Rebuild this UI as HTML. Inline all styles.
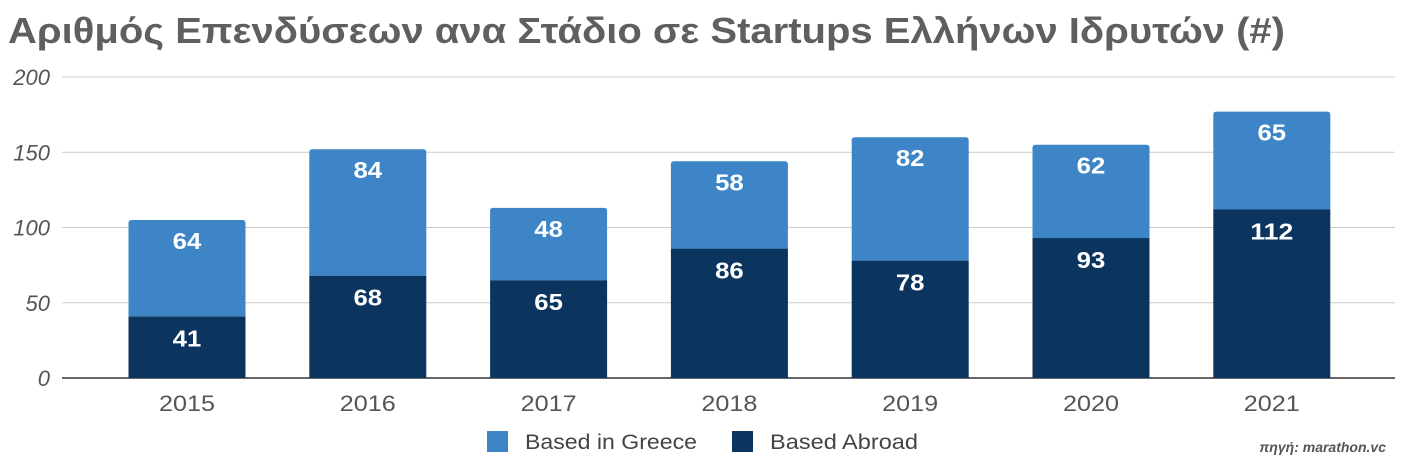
<!DOCTYPE html>
<html><head><meta charset="utf-8">
<style>
body{margin:0;background:#fff;width:1402px;height:468px;overflow:hidden;font-family:"Liberation Sans",Arial,sans-serif;}
</style></head>
<body>
<svg id="chart" width="1402" height="468" xmlns="http://www.w3.org/2000/svg">
<text x="8" y="43" font-size="36" font-weight="bold" fill="#5f5f5f" textLength="1277" lengthAdjust="spacingAndGlyphs" font-family="Liberation Sans, sans-serif">Αριθμός Επενδύσεων ανα Στάδιο σε Startups Ελλήνων Ιδρυτών (#)</text>
<g id="grid"></g>
<g id="bars"></g>
<g id="xlabels"></g>
<g>
<rect x="487" y="431" width="21" height="21" fill="#3d85c6"/>
<text x="525" y="449" font-size="21" fill="#444" textLength="172" lengthAdjust="spacingAndGlyphs">Based in Greece</text>
<rect x="732" y="431" width="21" height="21" fill="#0b355f"/>
<text x="770" y="449" font-size="21" fill="#444" textLength="148" lengthAdjust="spacingAndGlyphs">Based Abroad</text>
</g>
<text x="1386" y="452" text-anchor="end" font-size="14" font-style="italic" font-weight="bold" fill="#555">πηγή: marathon.vc</text>
</svg>
<script>
const years=["2015","2016","2017","2018","2019","2020","2021"];
const abroad=[41,68,65,86,78,93,112];
const greece=[64,84,48,58,82,62,65];
const yTicks=[0,50,100,150,200];
const NS="http://www.w3.org/2000/svg";
const y0=378, pxPer=301/200;
const yS=v=>y0-v*pxPer;
const xC=i=>187+i*180.8;
const bw=117;
function mk(t,a,p){const e=document.createElementNS(NS,t);for(const k in a)e.setAttribute(k,a[k]);p.appendChild(e);return e;}
const grid=document.getElementById('grid');
yTicks.forEach(v=>{
  const l=mk('line',{x1:62,x2:1395,y1:yS(v),y2:yS(v),stroke:v===0?'#333':'#ccc','stroke-width':v===0?1.5:1},grid);
  
  
  const t=mk('text',{x:50,y:yS(v)+8,'text-anchor':'end','font-size':22,'font-style':'italic',fill:'#555'},grid);
  t.textContent=v;
  
  
});
const bars=document.getElementById('bars'), xl=document.getElementById('xlabels');
years.forEach((yr,i)=>{
  const x=xC(i)-bw/2;
  const a=abroad[i], g=greece[i];
  const r1=mk('rect',{x:x,y:yS(a),width:bw,height:a*pxPer,fill:'#0b355f'},bars);
  
  
  const r2=mk('path',{d:`M${x},${yS(a)}V${yS(a+g)+3}Q${x},${yS(a+g)} ${x+3},${yS(a+g)}H${x+bw-3}Q${x+bw},${yS(a+g)} ${x+bw},${yS(a+g)+3}V${yS(a)}Z`,fill:'#3d85c6'},bars);
  
  
  const t1=mk('text',{x:xC(i),y:yS(a)+30,'text-anchor':'middle','font-size':23,'font-weight':'bold',fill:'#fff',textLength:String(a).length*14.3,lengthAdjust:'spacingAndGlyphs'},bars);
  t1.textContent=a;
  
  
  const t2=mk('text',{x:xC(i),y:yS(a+g)+29,'text-anchor':'middle','font-size':23,'font-weight':'bold',fill:'#fff',textLength:String(g).length*14.3,lengthAdjust:'spacingAndGlyphs'},bars);
  t2.textContent=g;
  
  
  const xt=mk('text',{x:xC(i),y:411,'text-anchor':'middle','font-size':22,fill:'#555',textLength:56,lengthAdjust:'spacingAndGlyphs'},xl);
  xt.textContent=yr;
  
  
});
</script>
</body></html>
